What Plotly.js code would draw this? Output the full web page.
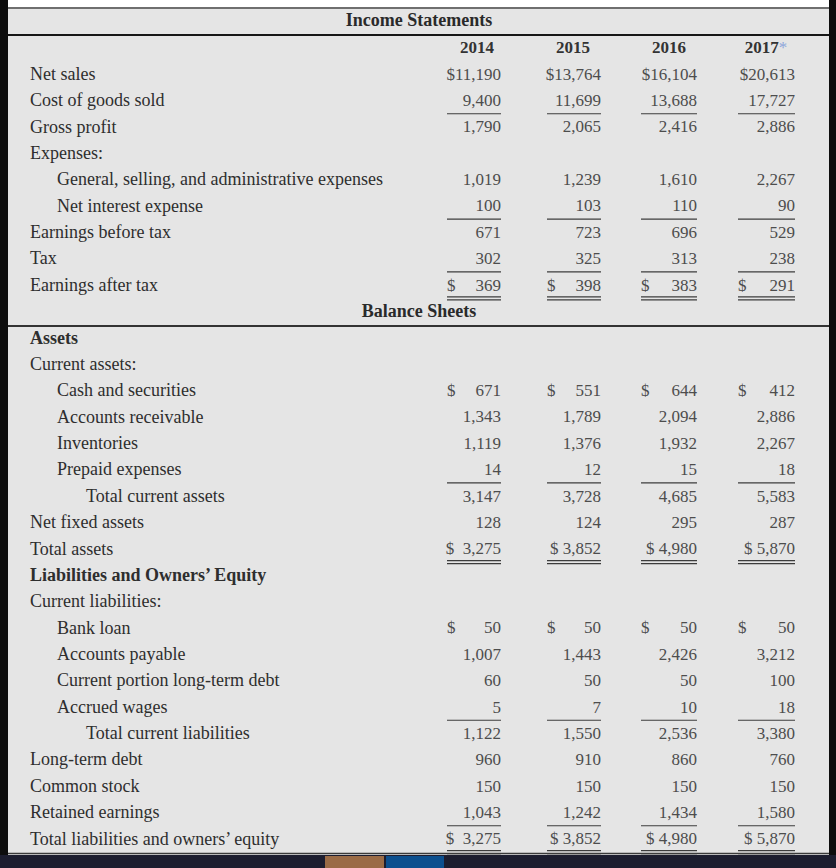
<!DOCTYPE html>
<html>
<head>
<meta charset="utf-8">
<script src="https://cdn.plot.ly/plotly-3.0.1.min.js"></script>
<style>html,body{margin:0;padding:0;background:#0d0d0d;}#chart{width:836px;height:868px;}</style>
</head>
<body>
<div id="chart"></div>
<script>
// ---------- DATA ----------
const years = ['2014', '2015', '2016', '2017'];
const sectionTitles = ['Income Statements', 'Balance Sheets'];

const incomeItems = ['Net sales', 'Cost of goods sold', 'Gross profit', 'Expenses:',
  'General, selling, and administrative expenses', 'Net interest expense',
  'Earnings before tax', 'Tax', 'Earnings after tax'];
const income2014 = [11190, 9400, 1790, null, 1019, 100, 671, 302, 369];
const income2015 = [13764, 11699, 2065, null, 1239, 103, 723, 325, 398];
const income2016 = [16104, 13688, 2416, null, 1610, 110, 696, 313, 383];
const income2017 = [20613, 17727, 2886, null, 2267, 90, 529, 238, 291];

const balanceItems = ['Assets', 'Current assets:', 'Cash and securities', 'Accounts receivable',
  'Inventories', 'Prepaid expenses', 'Total current assets', 'Net fixed assets', 'Total assets',
  'Liabilities and Owners’ Equity', 'Current liabilities:', 'Bank loan', 'Accounts payable',
  'Current portion long-term debt', 'Accrued wages', 'Total current liabilities',
  'Long-term debt', 'Common stock', 'Retained earnings', 'Total liabilities and owners’ equity'];
const balance2014 = [null, null, 671, 1343, 1119, 14, 3147, 128, 3275, null, null, 50, 1007, 60, 5, 1122, 960, 150, 1043, 3275];
const balance2015 = [null, null, 551, 1789, 1376, 12, 3728, 124, 3852, null, null, 50, 1443, 50, 7, 1550, 910, 150, 1242, 3852];
const balance2016 = [null, null, 644, 2094, 1932, 15, 4685, 295, 4980, null, null, 50, 2426, 50, 10, 2536, 860, 150, 1434, 4980];
const balance2017 = [null, null, 412, 2886, 2267, 18, 5583, 287, 5870, null, null, 50, 3212, 100, 18, 3380, 760, 150, 1580, 5870];

// ---------- STYLE (formatting per row) ----------
const incomeIndent = [0, 0, 0, 0, 1, 1, 0, 0, 0];
const incomeBold   = [0, 0, 0, 0, 0, 0, 0, 0, 0];
const incomeRule   = ['', 'single', '', '', '', 'single', '', 'single', 'double'];
const incomeDollar = ['inline', '', '', '', '', '', '', '', 'left'];

const balanceIndent = [0, 0, 1, 1, 1, 1, 2, 0, 0, 0, 0, 1, 1, 1, 1, 2, 0, 0, 0, 0];
const balanceBold   = [1, 0, 0, 0, 0, 0, 0, 0, 0, 1, 0, 0, 0, 0, 0, 0, 0, 0, 0, 0];
const balanceRule   = ['', '', '', '', '', 'single', '', '', 'double', '', '', '', '', '', 'single', '', '', '', 'single', 'double'];
const balanceDollar = ['', '', 'left', '', '', '', '', '', 'space', '', '', 'left', '', '', '', '', '', '', '', 'space'];

// ---------- LAYOUT GEOMETRY ----------
const W = 836, H = 868;
const rowStep = 26.37, row0 = 49;
const indentX = [30, 57, 86];
const colRight = [501, 601, 697, 795];
const colLeft = [447, 547, 641, 738];
const yearCenter = [477, 573, 669, 766];
const titleX = [419, 419];
const labelColor = '#2e2e2e', numColor = '#4d4d4d';
const FONT = 'Liberation Serif, Times New Roman, serif';

const rowY = r => row0 + rowStep * r;

// assemble rows: income rows 1..9, balance title row 10, balance rows 11..30
const rows = [];
incomeItems.forEach((lab, i) => rows.push({
  label: lab, r: i + 1, indent: incomeIndent[i], bold: incomeBold[i], rule: incomeRule[i], dollar: incomeDollar[i],
  vals: [income2014[i], income2015[i], income2016[i], income2017[i]]
}));
balanceItems.forEach((lab, i) => rows.push({
  label: lab, r: i + 11, indent: balanceIndent[i], bold: balanceBold[i], rule: balanceRule[i], dollar: balanceDollar[i],
  vals: [balance2014[i], balance2015[i], balance2016[i], balance2017[i]]
}));

const fmt = v => v.toLocaleString('en-US');
const traces = [];
const base = {type: 'scatter', mode: 'text', hoverinfo: 'skip', showlegend: false, cliponaxis: false};

// labels
traces.push(Object.assign({}, base, {
  x: rows.map(d => indentX[d.indent]),
  y: rows.map(d => rowY(d.r)),
  text: rows.map(d => d.bold ? '<b>' + d.label + '</b>' : d.label),
  textposition: 'middle right',
  textfont: {family: FONT, size: 18, color: labelColor}
}));

// numbers per year
years.forEach((yr, j) => {
  const rs = rows.filter(d => d.vals[j] !== null);
  traces.push(Object.assign({}, base, {
    x: rs.map(() => colRight[j]),
    y: rs.map(d => rowY(d.r)),
    text: rs.map(d => {
      const s = fmt(d.vals[j]);
      if (d.dollar === 'inline') return '$' + s;
      if (d.dollar === 'space') return (j === 0 ? '$\u00a0\u00a0' : '$\u00a0') + s;
      return s;
    }),
    textposition: 'middle left',
    textfont: {family: FONT, size: 17, color: numColor}
  }));
  const ds = rows.filter(d => d.dollar === 'left');
  traces.push(Object.assign({}, base, {
    x: ds.map(() => colLeft[j]),
    y: ds.map(d => rowY(d.r)),
    text: ds.map(() => '$'),
    textposition: 'middle right',
    textfont: {family: FONT, size: 17, color: numColor}
  }));
});

// year headers
traces.push(Object.assign({}, base, {
  x: yearCenter,
  y: years.map(() => rowY(0)),
  text: years.map((y, j) => '<b>' + y + '</b>' + (j === 3 ? '<span style="color:#8ea6db">*</span>' : '')),
  textposition: 'middle center',
  textfont: {family: FONT, size: 17, color: '#333333'}
}));

// section titles
traces.push(Object.assign({}, base, {
  x: titleX,
  y: [21, rowY(10)],
  text: sectionTitles.map(t => '<b>' + t + '</b>'),
  textposition: 'middle center',
  textfont: {family: FONT, size: 18, color: '#2a2a2a'}
}));

// ---------- SHAPES ----------
const shapes = [
  {type: 'rect', xref: 'x', yref: 'y', x0: 8, x1: 829, y0: 0, y1: 7, fillcolor: '#ffffff', line: {width: 0}, layer: 'below'},
  {type: 'rect', xref: 'x', yref: 'y', x0: 8, x1: 829, y0: 7, y1: 855, fillcolor: '#e5e5e5', line: {width: 0}, layer: 'below'},
  {type: 'line', xref: 'x', yref: 'y', x0: 8, x1: 829, y0: 8, y1: 8, line: {color: '#6f6f6f', width: 2}},
  {type: 'line', xref: 'x', yref: 'y', x0: 8, x1: 829, y0: 35, y1: 35, line: {color: '#161616', width: 2}},
  {type: 'line', xref: 'x', yref: 'y', x0: 8, x1: 829, y0: 326, y1: 326, line: {color: '#333333', width: 2}},
  {type: 'line', xref: 'x', yref: 'y', x0: 8, x1: 829, y0: 853.5, y1: 853.5, line: {color: '#3a3a3a', width: 1.5}},
  {type: 'rect', xref: 'x', yref: 'y', x0: 0, x1: 836, y0: 855, y1: 868, fillcolor: '#1c1d2f', line: {width: 0}},
  {type: 'rect', xref: 'x', yref: 'y', x0: 325, x1: 384, y0: 856, y1: 868, fillcolor: '#9a6b46', line: {width: 0}},
  {type: 'rect', xref: 'x', yref: 'y', x0: 386, x1: 444, y0: 856, y1: 868, fillcolor: '#0c4f8e', line: {width: 0}}
];
rows.forEach(d => {
  if (!d.rule) return;
  const yc = rowY(d.r);
  colLeft.forEach((xl, j) => {
    const offs = d.rule === 'double' ? [10.5, 13.5] : [12];
    offs.forEach(o => shapes.push({
      type: 'line', xref: 'x', yref: 'y', x0: xl, x1: colRight[j], y0: yc + o, y1: yc + o,
      line: {color: '#3c3c3c', width: 1.2}
    }));
  });
});

const layout = {
  width: W, height: H,
  margin: {l: 0, r: 0, t: 0, b: 0, pad: 0},
  paper_bgcolor: '#0d0d0d', plot_bgcolor: '#0d0d0d',
  xaxis: {range: [0, W], visible: false, fixedrange: true},
  yaxis: {range: [H, 0], visible: false, fixedrange: true},
  shapes: shapes
};

Plotly.newPlot('chart', traces, layout, {displayModeBar: false, staticPlot: true});
</script>
</body>
</html>
